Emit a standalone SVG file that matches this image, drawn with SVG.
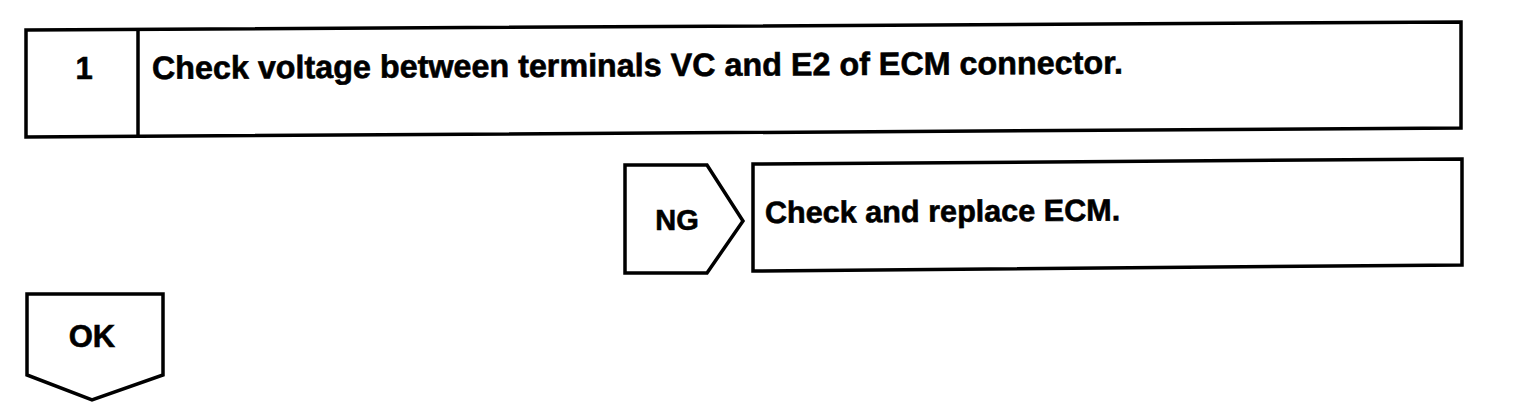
<svg xmlns="http://www.w3.org/2000/svg" width="1520" height="414" viewBox="0 0 1520 414">
<style>
.box{fill:#fff;stroke:#000;stroke-width:3.5;stroke-linejoin:miter}
.t{font-family:"Liberation Sans",Arial,sans-serif;font-weight:bold;fill:#000;stroke:#000;stroke-width:0.6}
</style>
<rect width="1520" height="414" fill="#fff"/>
<g id="step1">
<polygon class="box" points="26,30 1461,22 1461,128 26,137"/>
<line class="box" x1="138" y1="29.4" x2="138" y2="136.4"/>
<text class="t" x="84" y="79" font-size="31" text-anchor="middle">1</text>
<text class="t" x="152" y="79" font-size="32.3" transform="rotate(-0.32 152 79)">Check voltage between terminals VC and E2 of ECM connector.</text>
</g>
<g id="ng-label">
<polygon class="box" points="625,165 707,165 743,221 707,273 625,273"/>
<text class="t" x="677" y="230" font-size="29" text-anchor="middle">NG</text>
</g>
<g id="ng-result">
<polygon class="box" points="753,164 1462,159 1462,265 753,271"/>
<text class="t" x="765" y="223" font-size="30.6" transform="rotate(-0.4 765 223)">Check and replace ECM.</text>
</g>
<g id="ok-label">
<polygon class="box" points="27,294 163,294 163,375 92,400 27,375"/>
<text class="t" x="92" y="347" font-size="31" text-anchor="middle">OK</text>
</g>
<g id="connectors"></g>
</svg>
